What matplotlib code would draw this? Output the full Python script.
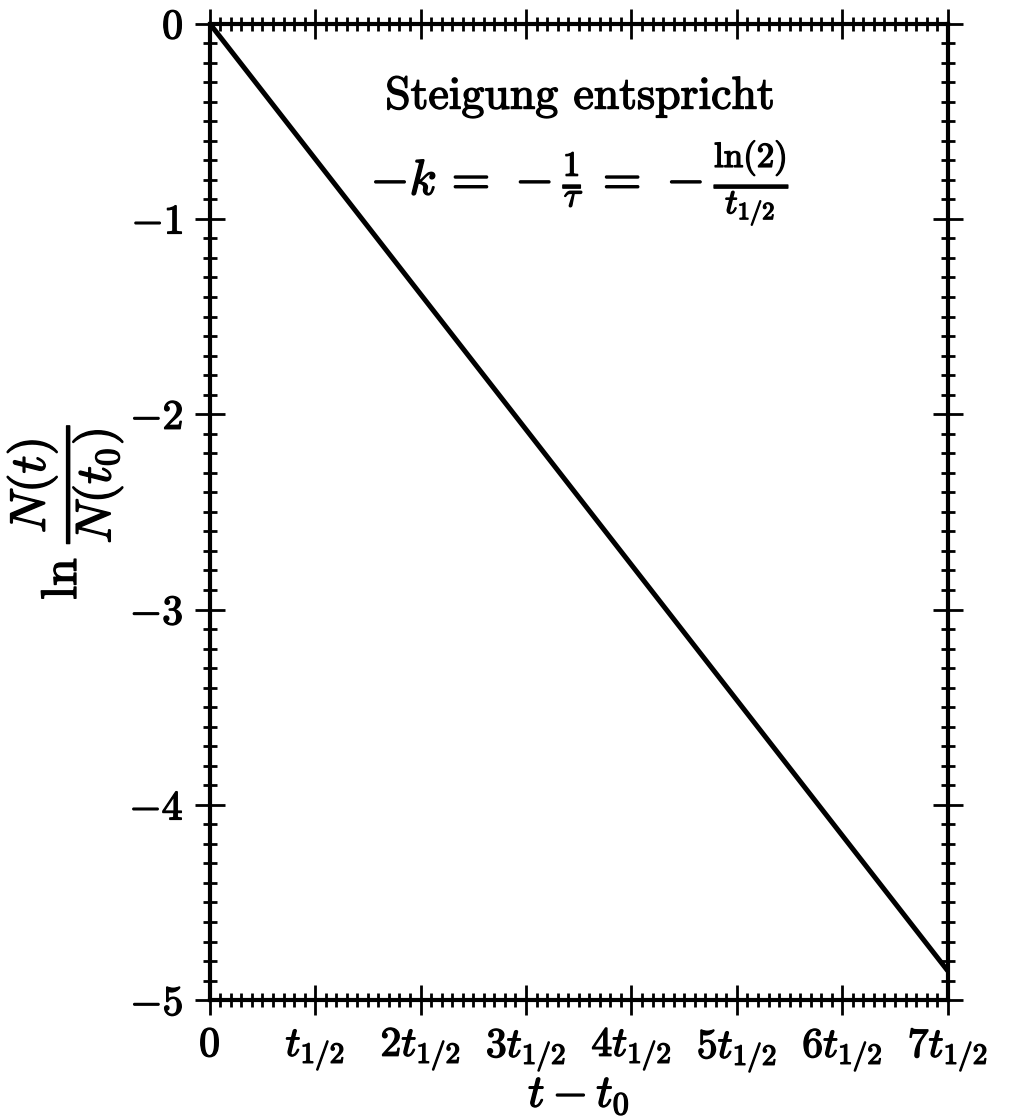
import numpy as np
import matplotlib
matplotlib.use("Agg")
import matplotlib.pyplot as plt
import matplotlib.patheffects as pe
from matplotlib.ticker import MultipleLocator

plt.rcParams['mathtext.fontset'] = 'cm'
plt.rcParams['font.family'] = 'serif'
plt.rcParams['font.serif'] = ['cmr10', 'DejaVu Serif']
plt.rcParams['axes.formatter.use_mathtext'] = True

# data: time in half-lives, ln(N/N0)
t_halves = [0, 7]
ln_ratio = [0, -4.85]

x_ticks = [0, 1, 2, 3, 4, 5, 6, 7]
x_labels = ['$0$', '$t_{1/2}$', '$2t_{1/2}$', '$3t_{1/2}$', '$4t_{1/2}$',
            '$5t_{1/2}$', '$6t_{1/2}$', '$7t_{1/2}$']
y_ticks = [0, -1, -2, -3, -4, -5]
y_labels = ['$0$', '$-1$', '$-2$', '$-3$', '$-4$', '$-5$']

bold = [pe.withStroke(linewidth=1.0, foreground='black')]

fig = plt.figure(figsize=(10.18, 11.2), dpi=100)
ax = fig.add_axes([0.206, 0.107, 0.725, 0.872])

ax.plot(t_halves, ln_ratio, color='black', lw=3.6, solid_capstyle='butt')

ax.set_xlim(0, 7)
ax.set_ylim(-5, 0)
ax.set_xticks(x_ticks)
ax.set_xticklabels(x_labels)
ax.set_yticks(y_ticks)
ax.set_yticklabels(y_labels)
ax.xaxis.set_minor_locator(MultipleLocator(0.1))
ax.yaxis.set_minor_locator(MultipleLocator(0.1))

ax.tick_params(which='both', direction='inout', top=True, right=True,
               labelsize=30, width=2, color='black')
ax.tick_params(which='major', length=22, pad=8)
ax.tick_params(which='minor', length=10)
for s in ax.spines.values():
    s.set_linewidth(3)

for lab in ax.get_xticklabels() + ax.get_yticklabels():
    lab.set_path_effects(bold)

ax.set_xlabel(r'$t - t_0$', fontsize=33, labelpad=1, path_effects=bold)
ax.set_ylabel(r'$\ln\,\dfrac{N(t)}{N(t_0)}$', fontsize=36, labelpad=2, path_effects=bold)

ax.text(0.502, 0.925, 'Steigung entspricht', transform=ax.transAxes,
        ha='center', va='center', fontsize=33, path_effects=bold)
ax.text(0.502, 0.838, r'$-k\,=\,-\frac{1}{\tau}\,=\,-\frac{\mathrm{ln}(2)}{t_{1/2}}$',
        transform=ax.transAxes, ha='center', va='center', fontsize=36, path_effects=bold)

fig.savefig('out.png', dpi=100)
